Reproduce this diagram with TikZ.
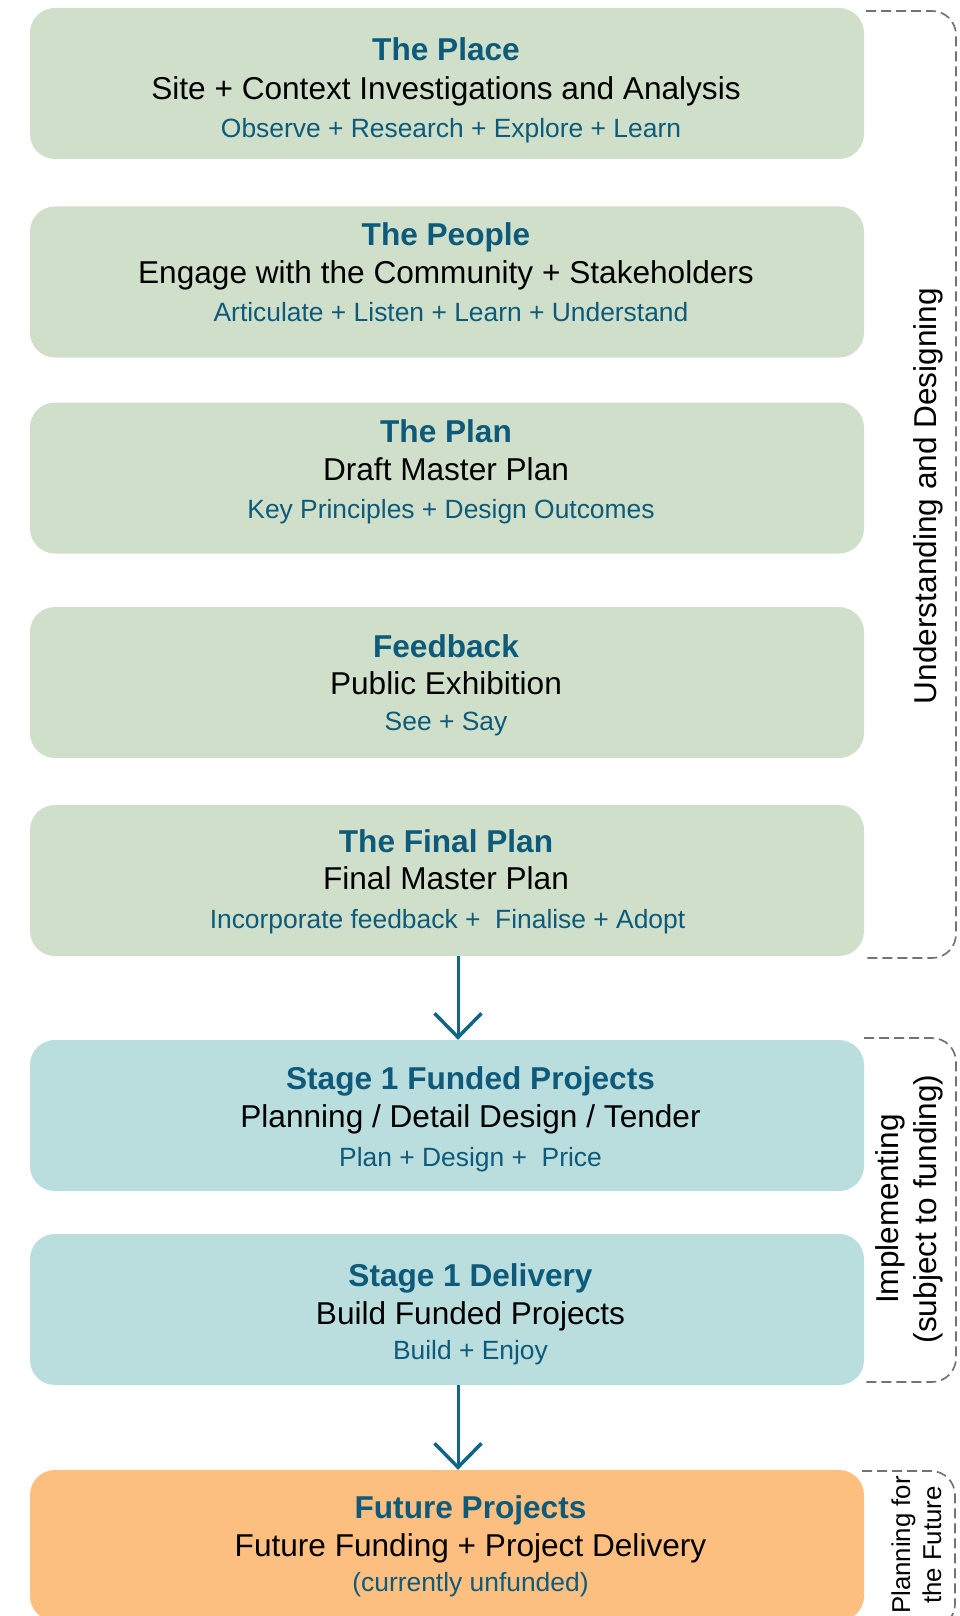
\documentclass[tikz,border=0pt]{standalone}
\usepackage{fontspec}
\setmainfont{Liberation Sans}
\usetikzlibrary{arrows.meta}
\usetikzlibrary{calc}

\definecolor{sage}{HTML}{CFDFC9}
\definecolor{aqua}{HTML}{BADDDE}
\definecolor{peach}{HTML}{FDBF80}
\definecolor{ink}{HTML}{0D5A7A}
\definecolor{arrowink}{HTML}{0F6686}
\definecolor{dashgray}{HTML}{737373}

\begin{document}
\begin{tikzpicture}[x=1pt, y=-1pt,
        stage/.style={rounded corners=25pt, minimum width=834pt, minimum height=151pt, inner sep=0pt},
        title/.style={anchor=base, inner sep=0pt, text=ink, font=\fontsize{31.6}{38}\selectfont\bfseries},
        main/.style={anchor=base, inner sep=0pt, font=\fontsize{31.6}{38}\selectfont},
        sub/.style={anchor=base, inner sep=0pt, text=ink, font=\fontsize{26.4}{31}\selectfont},
        side/.style={rotate=90, align=center, inner sep=0pt},
        bracket/.style={draw=dashgray, line width=1.7pt, dash pattern=on 10pt off 5pt, rounded corners=24pt},
        flow/.style={draw=arrowink, line width=3pt, -{Straight Barb[length=24pt, width=47pt, line width=3.5pt]}}]
    \useasboundingbox (0,0) rectangle (960,1616);

    % boxes
    \node[stage, fill=sage] (place) at (447,83.5) {};
    \node[stage, fill=sage] (people) at (447,282) {};
    \node[stage, fill=sage] (plan) at (447,478) {};
    \node[stage, fill=sage] (feedback) at (447,682.5) {};
    \node[stage, fill=sage] (final) at (447,880.5) {};
    \node[stage, fill=aqua] (stageone) at (447,1115.5) {};
    \node[stage, fill=aqua] (delivery) at (447,1309.5) {};
    \node[stage, fill=peach] (future) at (447,1545.5) {};

    % texts
    \node[title] (placeT) at (446,60.5) {The Place};
    \node[main] (placeM) at (446,99.5) {Site + Context Investigations and Analysis};
    \node[sub] (placeS) at (451,137.4) {Observe + Research + Explore + Learn};

    \node[title] (peopleT) at (446,245) {The People};
    \node[main] (peopleM) at (446,283.5) {Engage with the Community + Stakeholders};
    \node[sub] (peopleS) at (451,321.5) {Articulate + Listen + Learn + Understand};

    \node[title] (planT) at (446,442) {The Plan};
    \node[main] (planM) at (446,480.2) {Draft Master Plan};
    \node[sub] (planS) at (451,518.5) {Key Principles + Design Outcomes};

    \node[title] (feedbackT) at (446,657.5) {Feedback};
    \node[main] (feedbackM) at (446,694.5) {Public Exhibition};
    \node[sub] (feedbackS) at (446,730) {See + Say};

    \node[title] (finalT) at (446,852.4) {The Final Plan};
    \node[main] (finalM) at (446,889.5) {Final Master Plan};
    \node[sub] (finalS) at (447.5,928) {Incorporate feedback + \ Finalise + Adopt};

    \node[title] (stageoneT) at (470.5,1089.6) {Stage 1 Funded Projects};
    \node[main] (stageoneM) at (470.5,1127.7) {Planning / Detail Design / Tender};
    \node[sub] (stageoneS) at (470.5,1166) {Plan + Design + \ Price};

    \node[title] (deliveryT) at (470.5,1286.5) {Stage 1 Delivery};
    \node[main] (deliveryM) at (470.5,1324.7) {Build Funded Projects};
    \node[sub] (deliveryS) at (470.5,1359.2) {Build + Enjoy};

    \node[title] (futureT) at (470.5,1518.5) {Future Projects};
    \node[main] (futureM) at (470.5,1556.7) {Future Funding + Project Delivery};
    \node[sub] (futureS) at (470.5,1591) {(currently unfunded)};

    % arrows
    \coordinate (axis) at (458,0);
    \draw[flow] (final.south -| axis) -- (stageone.north -| axis);
    \draw[flow] (delivery.south -| axis) -- (future.north -| axis);

    % brackets
    \draw[bracket] (866,11) -- (956,11) -- (956,958) -- (866,958);
    \draw[bracket] (864,1038) -- (956,1038) -- (956,1382) -- (864,1382);
    \draw[bracket] (862,1471) -- (955,1471) -- (955,1628) -- (862,1628);

    \node[side, font=\fontsize{31.6}{38}\selectfont] (designing) at (928,496) {Understanding and Designing};
    \node[side, font=\fontsize{31.6}{38}\selectfont] (implementing) at (909,1209) {Implementing\\(subject to funding)};
    \node[side, font=\fontsize{25.8}{31}\selectfont] (planning) at (916.5,1545) {Planning for\\the Future};
\end{tikzpicture}
\end{document}
